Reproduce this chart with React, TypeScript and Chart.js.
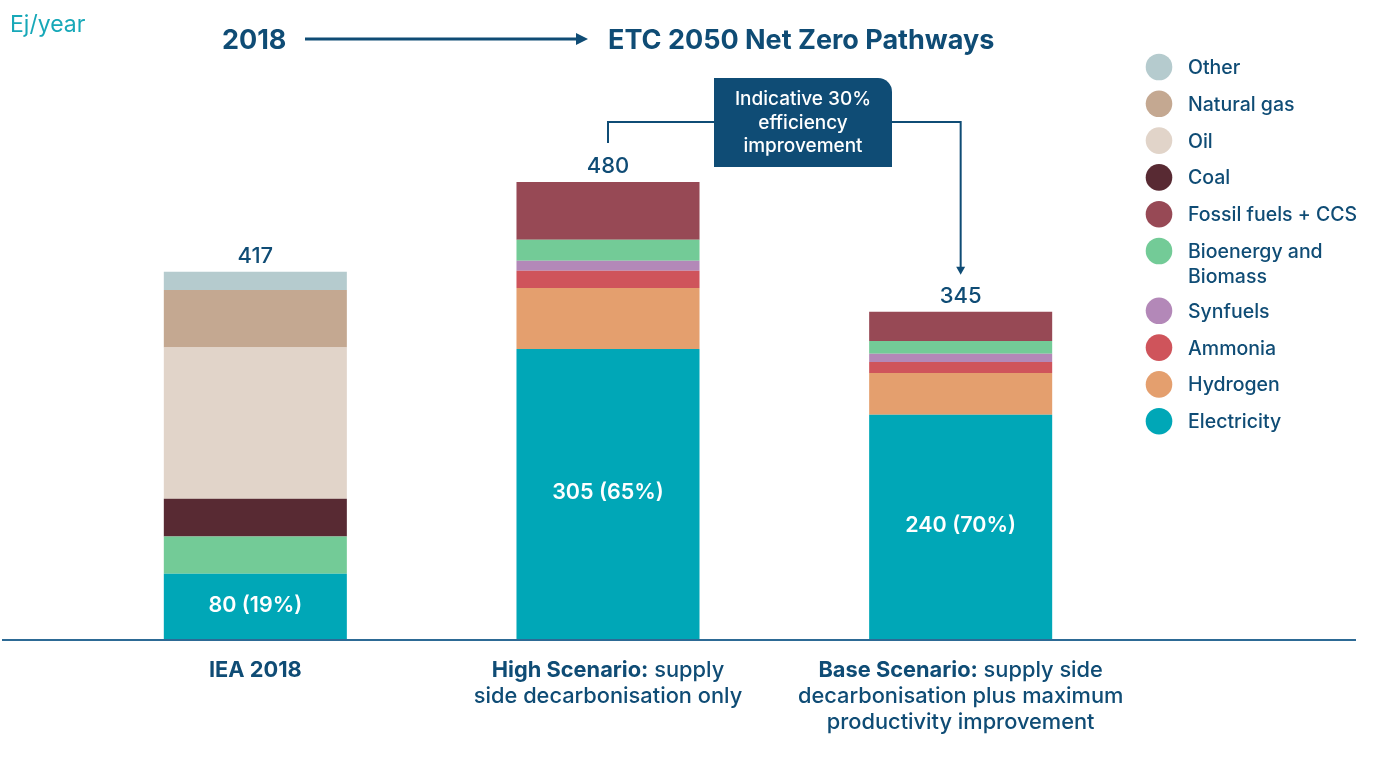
import React, { useEffect, useRef } from "react";
import { Chart, registerables } from "chart.js";

Chart.register(...registerables);

// ---------- data ----------
const categories = ["IEA 2018", "High Scenario", "Base Scenario"];
const electricity = [69.5, 305, 236];
const hydrogen = [0, 64, 44];
const ammonia = [0, 18, 11.5];
const synfuels = [0, 10.5, 8.5];
const bioenergy = [39, 22, 13.5];
const coal = [39.5, 0, 0];
const oil = [158.5, 0, 0];
const naturalGas = [60.5, 0, 0];
const other = [19, 0, 0];
const fossilCCS = [0, 60.5, 30.5];

const totalLabels = ["417", "480", "345"];
const electricityLabels = ["80 (19%)", "305 (65%)", "240 (70%)"];

type Seg = { t: string; b?: boolean };
const categoryLines: Seg[][][] = [
  [[{ t: "IEA 2018", b: true }]],
  [
    [{ t: "High Scenario:", b: true }, { t: " supply" }],
    [{ t: "side decarbonisation only" }],
  ],
  [
    [{ t: "Base Scenario:", b: true }, { t: " supply side" }],
    [{ t: "decarbonisation plus maximum" }],
    [{ t: "productivity improvement" }],
  ],
];

const unitLabel = "Ej/year";
const headerFrom = "2018";
const headerTo = "ETC 2050 Net Zero Pathways";
const annotationLines = ["Indicative 30%", "efficiency", "improvement"];

const COLORS = {
  electricity: "#00A7B7",
  hydrogen: "#E49F6E",
  ammonia: "#CF545B",
  synfuels: "#B388B8",
  bioenergy: "#73CB97",
  coal: "#582A33",
  oil: "#E1D4C9",
  naturalGas: "#C4A891",
  other: "#B5CBCE",
  fossilCCS: "#974955",
};
const DARK = "#0F4C75";
const TEAL = "#17A8B8";
const FONT = "Inter, 'Noto Sans', sans-serif";

const seriesDefs = [
  { label: "Electricity", data: electricity, color: COLORS.electricity },
  { label: "Hydrogen", data: hydrogen, color: COLORS.hydrogen },
  { label: "Ammonia", data: ammonia, color: COLORS.ammonia },
  { label: "Synfuels", data: synfuels, color: COLORS.synfuels },
  { label: "Bioenergy and Biomass", data: bioenergy, color: COLORS.bioenergy },
  { label: "Coal", data: coal, color: COLORS.coal },
  { label: "Oil", data: oil, color: COLORS.oil },
  { label: "Natural gas", data: naturalGas, color: COLORS.naturalGas },
  { label: "Other", data: other, color: COLORS.other },
  { label: "Fossil fuels + CCS", data: fossilCCS, color: COLORS.fossilCCS },
];

const legendItems: { lines: string[]; color: string }[] = [
  { lines: ["Other"], color: COLORS.other },
  { lines: ["Natural gas"], color: COLORS.naturalGas },
  { lines: ["Oil"], color: COLORS.oil },
  { lines: ["Coal"], color: COLORS.coal },
  { lines: ["Fossil fuels + CCS"], color: COLORS.fossilCCS },
  { lines: ["Bioenergy and", "Biomass"], color: COLORS.bioenergy },
  { lines: ["Synfuels"], color: COLORS.synfuels },
  { lines: ["Ammonia"], color: COLORS.ammonia },
  { lines: ["Hydrogen"], color: COLORS.hydrogen },
  { lines: ["Electricity"], color: COLORS.electricity },
];

const overlayPlugin = {
  id: "overlay",
  afterDraw(chart: any) {
    const ctx: CanvasRenderingContext2D = chart.ctx;
    const xs = chart.scales.x;
    const ys = chart.scales.y;
    const W = chart.width;
    ctx.save();

    // baseline
    const y0 = ys.getPixelForValue(0);
    ctx.strokeStyle = "#2D6A95";
    ctx.lineWidth = 2;
    ctx.beginPath();
    ctx.moveTo(2, y0);
    ctx.lineTo(W - 17, y0);
    ctx.stroke();

    // unit label
    ctx.fillStyle = TEAL;
    ctx.font = `400 23px ${FONT}`;
    ctx.textAlign = "left";
    ctx.textBaseline = "alphabetic";
    ctx.fillText(unitLabel, 10, 32);

    // header
    ctx.fillStyle = DARK;
    ctx.font = `700 27px ${FONT}`;
    ctx.fillText(headerFrom, 222, 49);
    ctx.fillText(headerTo, 608, 49);
    ctx.strokeStyle = DARK;
    ctx.lineWidth = 3;
    ctx.beginPath();
    ctx.moveTo(305, 39);
    ctx.lineTo(578, 39);
    ctx.stroke();
    ctx.beginPath();
    ctx.moveTo(576, 33);
    ctx.lineTo(588, 39);
    ctx.lineTo(576, 45);
    ctx.closePath();
    ctx.fill();

    // totals, electricity labels, category labels
    categories.forEach((_, i) => {
      const cx = xs.getPixelForValue(i);
      let total = 0;
      seriesDefs.forEach((s) => (total += s.data[i]));
      const topY = ys.getPixelForValue(total);
      ctx.fillStyle = DARK;
      ctx.font = `500 22px ${FONT}`;
      ctx.textAlign = "center";
      ctx.textBaseline = "alphabetic";
      ctx.fillText(totalLabels[i], cx, topY - 9);

      const eTop = ys.getPixelForValue(electricity[i]);
      ctx.fillStyle = "#ffffff";
      ctx.font = `600 21.5px ${FONT}`;
      ctx.textBaseline = "middle";
      ctx.fillText(electricityLabels[i], cx, (eTop + y0) / 2 - 1.5);

      // category label
      ctx.textBaseline = "alphabetic";
      ctx.textAlign = "left";
      ctx.fillStyle = DARK;
      categoryLines[i].forEach((line, li) => {
        let width = 0;
        line.forEach((seg) => {
          ctx.font = `${seg.b ? 700 : 500} 21.8px ${FONT}`;
          width += ctx.measureText(seg.t).width;
        });
        let x = cx - width / 2;
        const by = y0 + 37 + li * 26;
        line.forEach((seg) => {
          ctx.font = `${seg.b ? 700 : 500} 21.8px ${FONT}`;
          ctx.fillText(seg.t, x, by);
          x += ctx.measureText(seg.t).width;
        });
      });
    });

    // annotation connector
    const leftX = xs.getPixelForValue(1);
    const rightX = xs.getPixelForValue(2);
    let total2 = 0;
    seriesDefs.forEach((s) => (total2 += s.data[2]));
    const arrowTip = ys.getPixelForValue(total2) - 37;
    ctx.strokeStyle = DARK;
    ctx.lineWidth = 2;
    ctx.beginPath();
    ctx.moveTo(leftX, 143);
    ctx.lineTo(leftX, 122);
    ctx.lineTo(rightX, 122);
    ctx.lineTo(rightX, arrowTip - 6);
    ctx.stroke();
    ctx.fillStyle = DARK;
    ctx.beginPath();
    ctx.moveTo(rightX - 4.5, arrowTip - 8);
    ctx.lineTo(rightX + 4.5, arrowTip - 8);
    ctx.lineTo(rightX, arrowTip);
    ctx.closePath();
    ctx.fill();

    // annotation box
    ctx.beginPath();
    (ctx as any).roundRect(714, 78, 178, 89, [0, 14, 0, 0]);
    ctx.fill();
    ctx.fillStyle = "#ffffff";
    ctx.font = `500 19px ${FONT}`;
    ctx.textAlign = "center";
    annotationLines.forEach((t, i) => ctx.fillText(t, 803, 105 + i * 23.5));

    // legend
    let ly = 67;
    legendItems.forEach((item) => {
      ctx.fillStyle = item.color;
      ctx.beginPath();
      ctx.arc(1159, ly, 13.3, 0, Math.PI * 2);
      ctx.fill();
      ctx.fillStyle = DARK;
      ctx.font = `500 19.5px ${FONT}`;
      ctx.textAlign = "left";
      item.lines.forEach((t, li) => ctx.fillText(t, 1188, ly + 7 + li * 25));
      ly += 36.8 + (item.lines.length - 1) * 23;
    });

    ctx.restore();
  },
};

export default function App() {
  const ref = useRef<HTMLCanvasElement>(null);
  useEffect(() => {
    if (!ref.current) return;
    const chart = new Chart(ref.current, {
      type: "bar",
      data: {
        labels: categories,
        datasets: seriesDefs.map((s) => ({
          label: s.label,
          data: s.data,
          backgroundColor: s.color,
          borderWidth: 0,
          categoryPercentage: 1,
          barPercentage: 0.519,
        })),
      },
      options: {
        responsive: false,
        animation: false,
        layout: { padding: { left: 79, right: 236, top: 163, bottom: 123 } },
        plugins: {
          legend: { display: false },
          tooltip: { enabled: false },
        },
        scales: {
          x: { display: false, stacked: true },
          y: { display: false, stacked: true, min: 0, max: 500 },
        },
      },
      plugins: [overlayPlugin],
    });
    return () => chart.destroy();
  }, []);
  return (
    <div style={{ position: "absolute", left: 0, top: 0, width: 1373, height: 763, background: "#fff" }}>
      <canvas ref={ref} width={1373} height={763} style={{ width: 1373, height: 763 }} />
    </div>
  );
}
